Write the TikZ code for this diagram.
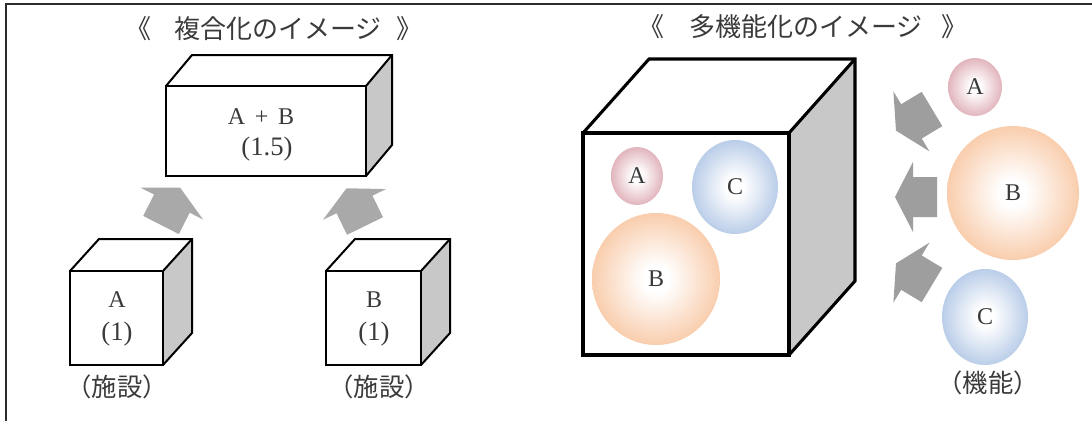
\documentclass[tikz,border=0pt]{standalone}
\usepackage{fontspec}
\setmainfont{Liberation Serif}
\newfontfamily\jp{Noto Sans CJK JP}
\usetikzlibrary{shapes.geometric}
\definecolor{ink}{HTML}{3A3A3A}
\definecolor{framecol}{HTML}{2B2B2B}
\definecolor{sidegray}{HTML}{C8C8C8}
\definecolor{arrowlight}{HTML}{A9A9A9}
\definecolor{arrowdark}{HTML}{9E9E9E}
\definecolor{ballAcol}{HTML}{D3929D}
\definecolor{ballBcol}{HTML}{F6B687}
\definecolor{ballCcol}{HTML}{9AB6DE}
\pgfdeclareradialshading{shadeA}{\pgfpoint{0bp}{0bp}}{color(0bp)=(white); color(5bp)=(white); color(30bp)=(ballAcol!85!white); color(44bp)=(ballAcol); color(50bp)=(ballAcol!70!white)}
\pgfdeclareradialshading{shadeB}{\pgfpoint{0bp}{0bp}}{color(0bp)=(white); color(5bp)=(white); color(30bp)=(ballBcol!85!white); color(44bp)=(ballBcol); color(50bp)=(ballBcol!70!white)}
\pgfdeclareradialshading{shadeC}{\pgfpoint{0bp}{0bp}}{color(0bp)=(white); color(5bp)=(white); color(30bp)=(ballCcol!85!white); color(44bp)=(ballCcol); color(50bp)=(ballCcol!70!white)}
\newcommand\mybox[7]{%
  \fill[sidegray] (#3,#2) -- ({#3+#5},{#2+#6}) -- ({#3+#5},{#4+#6}) -- (#3,#4) -- cycle;
  \fill[white] (#1,#2) -- ({#1+#5},{#2+#6}) -- ({#3+#5},{#2+#6}) -- (#3,#2) -- cycle;
  \draw[line width=#7, line join=miter] (#1,#2) rectangle (#3,#4);
  \draw[line width=#7, line join=miter] (#1,#2) -- ({#1+#5},{#2+#6}) -- ({#3+#5},{#2+#6}) -- ({#3+#5},{#4+#6}) -- (#3,#4);
  \draw[line width=#7] (#3,#2) -- ({#3+#5},{#2+#6});
}
\tikzset{
  blockarr/.pic={\fill[pic actions] (0,-20) -- (24,-20) -- (24,-35) -- (42,0) -- (24,35) -- (24,20) -- (0,20) -- cycle;},
  jtitle/.style={text=ink, font=\jp\fontsize{19.5pt}{22pt}\selectfont, inner sep=0pt},
  jlabel/.style={text=ink, font=\jp\fontsize{19pt}{22pt}\selectfont, inner sep=0pt},
  letter/.style={text=ink, font=\fontsize{18pt}{21pt}\selectfont, inner sep=0pt},
  numlabel/.style={text=ink, font=\fontsize{20pt}{24pt}\selectfont, inner sep=0pt},
  ball/.style={ellipse, inner sep=0pt, text=ink, font=\fontsize{18pt}{21pt}\selectfont},
  ballA/.style={ball, shade, shading=shadeA},
  ballB/.style={ball, shade, shading=shadeB},
  ballC/.style={ball, shade, shading=shadeC}
}
\begin{document}
\begin{tikzpicture}[x=0.75pt,y=-0.75pt]
\useasboundingbox (0,0) rectangle (1092,421);
\fill[white] (0,0) rectangle (1092,421);
% frame
\coordinate (frBL) at (6,421);
\coordinate (frTL) at (6,4);
\coordinate (frTR) at (1092,4);
\draw[framecol, line width=1.6pt] (frBL) -- (frTL) -- (frTR);

% ---------- left: compound ----------
\node[jtitle] (tl1) at (138,29) {《};
\node[jtitle] (tl2) at (278,29) {複合化のイメージ};
\node[jtitle] (tl3) at (409,29) {》};

\mybox{166}{86}{366}{176}{26}{-31}{1.5pt}
\node[letter] (tAB) at (261,117) {A\hspace{0.4em}+\hspace{0.4em}B};
\node[numlabel] (tAB2) at (267,149) {(1.5)};

\mybox{70}{271}{163}{365}{29}{-32}{1.5pt}
\node[letter] (tA) at (117,300) {A};
\node[numlabel] (tA2) at (117,334) {(1)};
\node[jlabel] (fa) at (117,387) {（施設）};

\mybox{326}{271}{421}{365}{29}{-32}{1.5pt}
\node[letter] (tB) at (374,300) {B};
\node[numlabel] (tB2) at (374,334) {(1)};
\node[jlabel] (fb) at (379,387) {（施設）};

\pic (arw1) [fill=arrowlight, rotate=63] at (161,225) {blockarr};
\pic (arw2) [fill=arrowlight, rotate=116] at (365,226) {blockarr};

% ---------- right: multi-function ----------
\node[jtitle] (tr1) at (651,27) {《};
\node[jtitle] (tr2) at (806,27) {多機能化のイメージ};
\node[jtitle] (tr3) at (954,27) {》};

\mybox{583}{133}{789}{355}{66}{-74}{2.3pt}
\node[ballA, minimum width=39pt, minimum height=43.5pt] (inA) at (637,176) {A};
\node[ballC, minimum width=64.5pt, minimum height=70.5pt] (inC) at (735,187) {C};
\node[ballB, minimum width=96pt, minimum height=99pt] (inB) at (656,279) {B};

\node[ballA, minimum width=40.5pt, minimum height=43.5pt] (exA) at (975,87) {A};
\node[ballB, minimum width=99pt, minimum height=100.5pt] (exB) at (1013,193) {B};
\node[ballC, minimum width=64.5pt, minimum height=72pt] (exC) at (985,317) {C};
\node[jlabel] (fk) at (988,383) {（機能）};

\pic (arwA) [fill=arrowdark, rotate=211] at (932,109) {blockarr};
\pic (arwB) [fill=arrowdark, rotate=180] at (937,197) {blockarr};
\pic (arwC) [fill=arrowdark, rotate=149] at (932,285) {blockarr};
\end{tikzpicture}
\end{document}
